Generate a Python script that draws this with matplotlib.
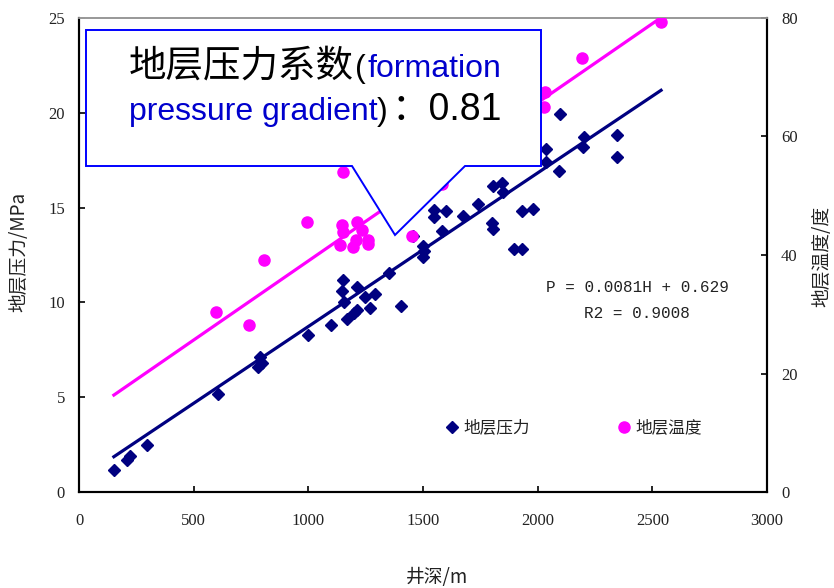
import matplotlib
matplotlib.use("Agg")
import matplotlib.pyplot as plt
import numpy as np
from matplotlib.patches import Polygon
from matplotlib.lines import Line2D

# ---- data ----
depth_p = [152, 209, 222, 296, 605, 779, 788, 797, 997, 1101, 1145, 1149, 1154, 1167,
           1197, 1214, 1214, 1245, 1267, 1289, 1350, 1406, 1458, 1498, 1502, 1506,
           1550, 1550, 1585, 1602, 1676, 1741, 1802, 1807, 1807, 1846, 1850, 1898,
           1933, 1933, 1981, 2037, 2037, 2094, 2098, 2198, 2203, 2347, 2347]
pressure = [1.16, 1.69, 1.9, 2.48, 5.17, 6.6, 7.1, 6.8, 8.28, 8.8, 10.6, 11.18, 10.0, 9.12,
            9.44, 9.6, 10.8, 10.28, 9.7, 10.44, 11.55, 9.8, 13.5, 12.4, 13.0, 12.7,
            14.87, 14.5, 13.77, 14.8, 14.56, 15.19, 14.2, 13.87, 16.14, 16.3, 15.8, 12.8,
            12.8, 14.8, 14.93, 17.4, 18.1, 16.95, 19.94, 18.2, 18.7, 17.67, 18.83]

depth_t = [596, 740, 805, 993, 1136, 1145, 1149, 1149, 1193, 1206, 1214, 1236, 1258,
           1260, 1454, 1585, 2029, 2033, 2194, 2538]
temperature = [30.4, 28.2, 39.2, 45.6, 41.7, 45.1, 43.9, 54.0, 41.4, 42.5, 45.6, 44.2, 42.6,
               41.8, 43.2, 52.0, 65.0, 67.5, 73.2, 79.3]

p_fit = (0.0081, 0.629)      # P = 0.0081H + 0.629
t_fit = (0.0267, 12.3)       # temperature trend line

eq_line1 = "P = 0.0081H + 0.629"
eq_line2 = "R2 = 0.9008"
series_names = ["地层压力", "地层温度"]
xlabel = "井深/m"
ylabel_left = "地层压力/MPa"
ylabel_right = "地层温度/度"
x_ticks = [0, 500, 1000, 1500, 2000, 2500, 3000]
yl_ticks = [0, 5, 10, 15, 20, 25]
yr_ticks = [0, 20, 40, 60, 80]

NAVY = "#000080"
MAGENTA = "#FF00FF"
BLUE_TXT = "#0000CD"
CJK = ["Noto Sans CJK SC", "DejaVu Sans"]
NUM = ["Liberation Serif", "DejaVu Serif"]

W, H = 834, 588
fig = plt.figure(figsize=(W / 100, H / 100), dpi=100)
L, R, T, B = 79, 767, 18, 492
ax = fig.add_axes([L / W, 1 - B / H, (R - L) / W, (B - T) / H])
ax2 = ax.twinx()

# trend lines over full depth range
all_depth = depth_p + depth_t
xr = np.array([min(all_depth), max(all_depth)])
ax.plot(xr, p_fit[0] * xr + p_fit[1], color=NAVY, lw=2.3, zorder=2)
ax2.plot(xr, t_fit[0] * xr + t_fit[1], color=MAGENTA, lw=2.3, zorder=2)

ax.plot(depth_p, pressure, ls="none", marker="D", ms=6.2, color=NAVY, mec=NAVY, zorder=3)
ax2.plot(depth_t, temperature, ls="none", marker="o", ms=8, color=MAGENTA, mec=MAGENTA, zorder=3)

ax.set_xlim(0, 3000)
ax.set_ylim(0, 25)
ax2.set_ylim(0, 80)
ax.set_xticks(x_ticks)
ax.set_yticks(yl_ticks)
ax2.set_yticks(yr_ticks)

for a in (ax, ax2):
    for s in ("left", "right", "bottom"):
        a.spines[s].set_color("black")
        a.spines[s].set_linewidth(1.5)
    a.spines["top"].set_color("#9a9a9a")
    a.spines["top"].set_linewidth(1.3)

ax.tick_params(axis="x", direction="in", length=4, width=1.2, pad=15, labelsize=12)
ax.tick_params(axis="y", direction="in", length=4, width=1.2, pad=10, labelsize=12)
ax2.tick_params(axis="y", direction="in", length=4, width=1.2, pad=10, labelsize=12)
for lab in ax.get_xticklabels() + ax.get_yticklabels() + ax2.get_yticklabels():
    lab.set_family(NUM)
    lab.set_color("#222222")

ax.set_xlabel(xlabel, family=CJK, fontsize=13.5, color="#222222")
ax.xaxis.set_label_coords((437 - L) / (R - L), (B - 567) / (B - T))
ax.set_ylabel(ylabel_left, family=CJK, fontsize=13.5, color="#222222")
ax.yaxis.set_label_coords((29 - L) / (R - L), (B - 252) / (B - T))
ax2.set_ylabel(ylabel_right, family=CJK, fontsize=13.5, color="#222222")
ax2.yaxis.set_label_coords((811 - L) / (R - L), (B - 256) / (B - T))

# legend
handles = [Line2D([], [], ls="none", marker="D", ms=6.2, color=NAVY),
           Line2D([], [], ls="none", marker="o", ms=8, color=MAGENTA)]
leg = ax2.legend(handles, series_names, loc="center left",
                 bbox_to_anchor=((442 - L) / (R - L), (B - 428) / (B - T)),
                 ncol=2, frameon=False, handlelength=1.2, handletextpad=0.1,
                 columnspacing=5.0, borderpad=0, borderaxespad=0,
                 prop={"family": CJK, "size": 12})
for t in leg.get_texts():
    t.set_color("#222222")

# equation text
ax2.text((546 - L) / (R - L), (B - 287) / (B - T), eq_line1, transform=ax2.transAxes,
         family=["Liberation Mono", "DejaVu Sans Mono"], fontsize=11.5, color="#222222",
         ha="left", va="center")
ax2.text((584 - L) / (R - L), (B - 314) / (B - T), eq_line2, transform=ax2.transAxes,
         family=["Liberation Mono", "DejaVu Sans Mono"], fontsize=11.5, color="#222222",
         ha="left", va="center")

# callout box (figure pixel coordinates converted to fractions)
def fp(x, y):
    return (x / W, 1 - y / H)

callout = [fp(86, 30), fp(541, 30), fp(541, 166), fp(465, 166), fp(395, 235),
           fp(352, 166), fp(86, 166)]
poly = Polygon(callout, closed=True, facecolor="white", edgecolor="#0000FF",
               lw=1.4, transform=fig.transFigure, zorder=5)
fig.add_artist(poly)

SANS = ["Liberation Sans", "DejaVu Sans"]
MIX = ["Liberation Sans", "Noto Sans CJK SC", "DejaVu Sans"]
segments = [
    ("地层压力系数", 129, 77, "black", 27, CJK),
    ("(", 355, 77, "black", 23, SANS),
    ("formation", 368, 77, BLUE_TXT, 23, SANS),
    ("pressure gradient", 129, 120, BLUE_TXT, 23, SANS),
    (")", 377, 120, "black", 23, SANS),
    ("：0.81", 392, 120, "black", 27, MIX),
]
for s, x, y, c, size, fam in segments:
    fx, fy = fp(x, y)
    fig.text(fx, fy, s, color=c, fontsize=size, family=fam, ha="left", va="baseline", zorder=6)

fig.savefig("out.png", dpi=100)
